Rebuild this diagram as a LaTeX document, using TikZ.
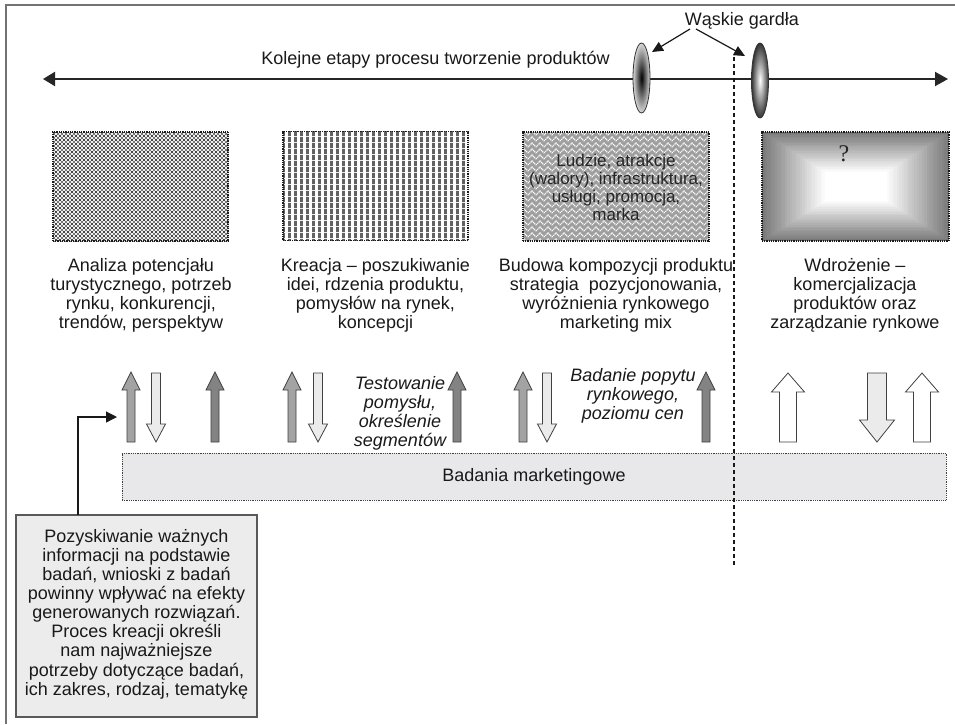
\documentclass[tikz,border=0pt]{standalone}
\usepackage{fontspec}
\setmainfont{Liberation Sans}
\newfontfamily\serifq{Liberation Serif}
\usetikzlibrary{arrows.meta,patterns,shapes.geometric,calc}

\pgfdeclarepatternformonly{mystripes}{\pgfqpoint{0pt}{0pt}}{\pgfqpoint{6pt}{6pt}}{\pgfqpoint{6pt}{6pt}}{%
  \pgfpathrectangle{\pgfqpoint{0pt}{0pt}}{\pgfqpoint{3.2pt}{6pt}}\pgfusepath{fill}}
\pgfdeclarepatternformonly{mydots}{\pgfqpoint{-1.5pt}{-1.5pt}}{\pgfqpoint{5.5pt}{5.5pt}}{\pgfqpoint{4pt}{4pt}}{%
  \pgfpathcircle{\pgfqpoint{0pt}{0pt}}{1.2pt}\pgfpathcircle{\pgfqpoint{2pt}{2pt}}{1.2pt}\pgfpathcircle{\pgfqpoint{4pt}{0pt}}{1.2pt}\pgfpathcircle{\pgfqpoint{0pt}{4pt}}{1.2pt}\pgfpathcircle{\pgfqpoint{4pt}{4pt}}{1.2pt}\pgfusepath{fill}}
\pgfdeclarepatternformonly{myzig}{\pgfqpoint{0pt}{-1pt}}{\pgfqpoint{8pt}{7pt}}{\pgfqpoint{8pt}{6pt}}{%
  \pgfsetlinewidth{1.3pt}\pgfpathmoveto{\pgfqpoint{0pt}{1pt}}\pgfpathlineto{\pgfqpoint{4pt}{5pt}}\pgfpathlineto{\pgfqpoint{8pt}{1pt}}\pgfusepath{stroke}}

\definecolor{arrA}{HTML}{A3A3A3}
\definecolor{arrB}{HTML}{838383}
\definecolor{arrL}{HTML}{EBEBEB}
\definecolor{boxg}{HTML}{E8E8EA}
\definecolor{infog}{HTML}{ECECEC}

\newcommand{\blkup}[7]{%
  \filldraw[blk,fill=#7] (#1-#4,#3) -- (#1-#4,#2+#6) -- (#1-#5,#2+#6) -- (#1,#2) -- (#1+#5,#2+#6) -- (#1+#4,#2+#6) -- (#1+#4,#3) -- cycle;}
\newcommand{\blkdown}[7]{%
  \filldraw[blk,fill=#7] (#1-#4,#2) -- (#1-#4,#3-#6) -- (#1-#5,#3-#6) -- (#1,#3) -- (#1+#5,#3-#6) -- (#1+#4,#3-#6) -- (#1+#4,#2) -- cycle;}

\begin{document}
\begin{tikzpicture}[x=1pt,y=-1pt,
  every node/.style={inner sep=0pt, outer sep=0pt},
  lbl/.style={font=\fontsize{18}{19.2}\selectfont, align=center, anchor=north, text=black!90},
  itl/.style={font=\fontsize{18}{19.3}\selectfont\itshape, align=center, anchor=north, text=black!90},
  bx/.style={draw=black!90, line width=1.3pt, dash pattern=on 1pt off 0.8pt, minimum height=109pt},
  blk/.style={draw=black!75, line width=0.8pt, line join=miter},
  tipA/.style={-{Triangle[length=11pt,width=10pt]}, line width=1.2pt, black!90}
]
\useasboundingbox (0,0) rectangle (955,724);
\fill[white] (0,0) rectangle (955,724);

% frame
\draw[gray!90!black, line width=1.6pt] (6,724) -- (6,5) -- (955,5);

% top process arrow
\coordinate (L) at (43,79);
\coordinate (R) at (948,79);
\draw[{Triangle[length=12pt,width=14pt]}-{Triangle[length=13pt,width=14pt]}, line width=2pt, black!85] (L) -- (R);
\node[lbl] (title) at (435.5,51) {Kolejne etapy procesu tworzenie produktów};

% bottlenecks
\node[ellipse, minimum width=17pt, minimum height=70pt, draw=black!80, line width=0.8pt,
      inner color=black, outer color=gray!30] (e1) at (641.5,78) {};
\node[ellipse, minimum width=17pt, minimum height=75pt, draw=black!80, line width=0.8pt,
      inner color=white, outer color=black!80] (e2) at (760,80.5) {};
\node[lbl] (wg) at (742,12) {Wąskie gardła};
\coordinate (wgA) at (690,29);
\coordinate (wgB) at (696,29);
\coordinate (t1) at (652,52);
\coordinate (t2) at (745,56);
\draw[tipA] (wgA) -- (t1);
\draw[tipA] (wgB) -- (t2);

% stage boxes
\node[bx, minimum width=175pt, preaction={fill=white}, pattern=mydots, pattern color=black!72] (b1) at (140.5,186.5) {};
\node[bx, minimum width=185pt, preaction={fill=white}, pattern=mystripes, pattern color=black!62] (b2) at (375.5,186) {};
\node[bx, minimum width=186pt, preaction={fill=black!38}, pattern=myzig, pattern color=white] (b3) at (616,186.5) {};
\node[font=\fontsize{17}{18.2}\selectfont, align=center, anchor=north, text=black!85] (b3t) at (616,154)
  {Ludzie, atrakcje\\(walory), infrastruktura,\\usługi, promocja,\\marka};
\foreach \i in {0,...,25}{
  \pgfmathsetmacro\dx{2.5*\i}
  \pgfmathsetmacro\dy{1.6*\i}
  \pgfmathtruncatemacro\cc{53*(1-\i/25)}
  \fill[black!\cc!white] (762+\dx,132+\dy) rectangle (949-\dx,241-\dy);
}
\node[bx, minimum width=187pt] (b4) at (855.5,186.5) {};
\node[font=\serifq\fontsize{24}{24}\selectfont, text=black!85] (q) at (844,154) {?};

% stage labels
\node[lbl] (l1) at (141,258) {Analiza potencjału\\turystycznego, potrzeb\\rynku, konkurencji,\\trendów, perspektyw};
\node[lbl] (l2) at (375.5,258) {Kreacja – poszukiwanie\\idei, rdzenia produktu,\\pomysłów na rynek,\\koncepcji};
\node[lbl] (l3) at (616,258) {Budowa kompozycji produktu\\strategia\ \ pozycjonowania,\\wyróżnienia rynkowego\\marketing mix};
\node[lbl] (l4) at (855,258) {Wdrożenie –\\komercjalizacja\\produktów oraz\\zarządzanie rynkowe};

% block arrows
\blkup{131}{372}{442}{4}{9}{18}{arrA}
\blkdown{156}{373}{442}{4.5}{9.5}{18}{arrL}
\blkup{215}{372}{442}{4}{9}{18}{arrB}
\blkup{292}{372}{442}{4}{9}{18}{arrA}
\blkdown{318}{373}{442}{4.5}{9.5}{18}{arrL}
\blkup{457}{372}{442}{4}{9}{18}{arrB}
\blkup{523}{372}{442}{4}{9}{18}{arrA}
\blkdown{547}{373}{442}{4.5}{9.5}{18}{arrL}
\blkup{706}{372}{442}{4}{9}{18}{arrB}
\blkup{788}{373}{442}{8.5}{16.5}{19}{white}
\blkdown{877}{373}{442}{9.5}{17.5}{22}{arrL}
\blkup{922}{373}{442}{8.5}{16.5}{19}{white}

\node[itl] (test) at (400,376) {Testowanie\\pomysłu,\\określenie\\segmentów};
\node[itl] (popyt) at (633,368) {Badanie popytu\\rynkowego,\\poziomu cen};

% marketing research bar
\node[draw=black!75, line width=0.9pt, dash pattern=on 1pt off 0.8pt, fill=boxg,
      minimum width=824pt, minimum height=47pt] (bm) at (534,476.5) {};
\node[font=\fontsize{18}{19.5}\selectfont, text=black!90] (bmt) at (534,476.5) {Badania marketingowe};

% info box
\node[draw=black!65, line width=1.2pt, fill=infog, minimum width=241pt, minimum height=202pt] (bl) at (136.5,616) {};
\node[font=\fontsize{18}{19.15}\selectfont, align=center, anchor=north, text=black!90] (blt) at (136.5,529)
  {Pozyskiwanie ważnych\\informacji na podstawie\\badań, wnioski z badań\\powinny wpływać na efekty\\generowanych rozwiązań.\\Proces kreacji określi\\nam najważniejsze\\potrzeby dotyczące badań,\\ich zakres, rodzaj, tematykę};
\coordinate (c0) at (78,417);
\coordinate (c1) at (117,417);
\draw[-{Triangle[length=11pt,width=11pt]}, line width=1.2pt, black!90] (bl.north -| c0) -- (c0) -- (c1);

% dashed divider
\coordinate (d1) at (734,57);
\coordinate (d2) at (734,566);
\draw[black!90, line width=1.2pt, dash pattern=on 4pt off 3pt] (d1) -- (d2);
\end{tikzpicture}
\end{document}
